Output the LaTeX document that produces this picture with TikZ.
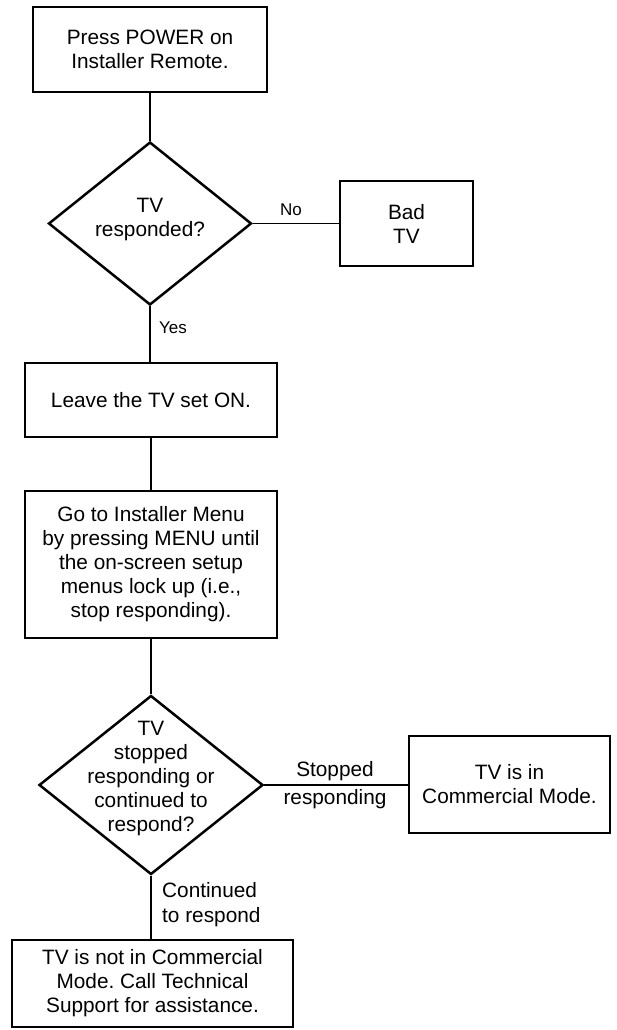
\documentclass[tikz,border=0pt]{standalone}
\usepackage{fontspec}
\setmainfont{Liberation Sans}
\usetikzlibrary{shapes.geometric}
\frenchspacing
\begin{document}
\begin{tikzpicture}[x=1pt,y=-1pt,
  every node/.style={font=\fontsize{20.8}{24}\selectfont, align=center, inner sep=0pt},
  stepbox/.style={draw, line width=2.8pt, rectangle},
  decision/.style={draw, line width=2.5pt, diamond, inner sep=0pt},
  conn/.style={line width=1.3pt},
  lbl/.style={font=\fontsize{17}{20}\selectfont},
  blbl/.style={font=\fontsize{20.8}{28}\selectfont}]
\useasboundingbox (0,0) rectangle (617,1030);
\fill[white] (0,0) rectangle (617,1030);

\node[stepbox, minimum width=234pt, minimum height=85pt] (b1) at (150,49.5) {Press POWER on\\Installer Remote.};
\node[decision, minimum width=203pt, minimum height=163pt] (d1) at (150,223.5) {};
\node (d1t) at (150,219.5) {TV\\responded?};
\node[stepbox, minimum width=133pt, minimum height=85pt] (bad) at (406.5,223.5) {Bad\\TV};
\node[stepbox, minimum width=252pt, minimum height=74pt] (leave) at (151,400) {Leave the TV set ON.};
\node[stepbox, minimum width=252pt, minimum height=147pt] (goto) at (151,564.5) {Go to Installer Menu\\by pressing MENU until\\the on-screen setup\\menus lock up (i.e.,\\stop responding).};
\node[decision, minimum width=224pt, minimum height=179pt] (d2) at (151,785) {};
\node (d2t) at (151,778) {TV\\stopped\\responding or\\continued to\\respond?};
\node[stepbox, minimum width=201pt, minimum height=97pt] (comm) at (509.5,784.5) {TV is in\\Commercial Mode.};
\node[stepbox, minimum width=281pt, minimum height=87pt] (bot) at (152.5,983.5) {TV is not in Commercial\\Mode. Call Technical\\Support for assistance.};

\draw[conn] (b1.south -| d1.north) -- (d1.north);
\draw[conn] (d1.east) -- (d1.east -| bad.west);
\draw[conn] (d1.south) -- (d1.south |- leave.north);
\draw[conn] (leave.south) -- (goto.north);
\draw[conn] (goto.south) -- (d2.north);
\draw[conn] (d2.east) -- (d2.east -| comm.west);
\draw[conn] (d2.south) -- (d2.south |- bot.north);

\node[lbl] (no) at (291,210) {No};
\node[lbl] (yes) at (173,328) {Yes};
\node[blbl] (stop) at (335,785) {Stopped\\responding};
\node[blbl, font=\fontsize{20.8}{25}\selectfont, anchor=west, align=left] (cont) at (162,905) {Continued\\to respond};
\end{tikzpicture}
\end{document}
